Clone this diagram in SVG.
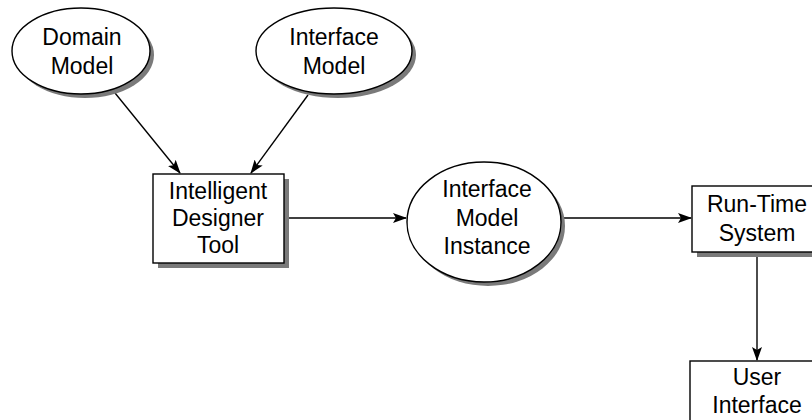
<svg xmlns="http://www.w3.org/2000/svg" width="812" height="420" viewBox="0 0 812 420">
  <style>
    .shadow { fill: #7a7a7a; stroke: none; }
    .shape { fill: #ffffff; stroke: #000000; stroke-width: 1.4; }
    .label { font-family: "Liberation Sans", Arial, sans-serif; font-size: 23px; fill: #000000; text-anchor: middle; }
    .edge { stroke: #000000; stroke-width: 1.4; fill: none; marker-end: url(#arrow); }
  </style>
  <defs>
    <marker id="arrow" viewBox="0 0 14 10" refX="13" refY="5" markerWidth="14" markerHeight="10" markerUnits="userSpaceOnUse" orient="auto">
      <path d="M0,0 L14,5 L0,10 L3,5 Z" fill="#000000"/>
    </marker>
  </defs>
  <rect width="812" height="420" fill="#ffffff"/>

  <g id="connectors">
    <line class="edge" x1="115" y1="93" x2="180" y2="173"/>
    <line class="edge" x1="308" y1="95" x2="251" y2="173"/>
    <line class="edge" x1="285" y1="218" x2="406" y2="218"/>
    <line class="edge" x1="561" y1="218" x2="691" y2="218"/>
    <line class="edge" x1="757" y1="253" x2="757" y2="360"/>
  </g>

  <g id="domain-model">
    <ellipse class="shadow" cx="85" cy="55" rx="69" ry="43"/>
    <ellipse class="shape" cx="81" cy="51" rx="69" ry="43"/>
    <text class="label" x="82" y="45">Domain</text>
    <text class="label" x="82" y="74">Model</text>
  </g>

  <g id="interface-model">
    <ellipse class="shadow" cx="338" cy="55" rx="78" ry="43"/>
    <ellipse class="shape" cx="334" cy="51" rx="78" ry="43"/>
    <text class="label" x="334" y="45">Interface</text>
    <text class="label" x="334" y="74">Model</text>
  </g>

  <g id="intelligent-designer-tool">
    <rect class="shadow" x="158" y="179" width="131" height="89"/>
    <rect class="shape" x="153" y="174" width="131" height="89"/>
    <text class="label" x="218" y="199">Intelligent</text>
    <text class="label" x="218" y="226">Designer</text>
    <text class="label" x="218" y="253">Tool</text>
  </g>

  <g id="interface-model-instance">
    <ellipse class="shadow" cx="488" cy="226" rx="77" ry="60"/>
    <ellipse class="shape" cx="484" cy="222" rx="77" ry="60"/>
    <text class="label" x="487" y="197">Interface</text>
    <text class="label" x="487" y="226">Model</text>
    <text class="label" x="487" y="254">Instance</text>
  </g>

  <g id="run-time-system">
    <rect class="shadow" x="697" y="191" width="130" height="66"/>
    <rect class="shape" x="692" y="186" width="130" height="66"/>
    <text class="label" x="757" y="212">Run-Time</text>
    <text class="label" x="757" y="241">System</text>
  </g>

  <g id="user-interface">
    <rect class="shadow" x="695" y="366" width="134" height="80"/>
    <rect class="shape" x="690" y="361" width="134" height="80"/>
    <text class="label" x="757" y="385">User</text>
    <text class="label" x="757" y="413">Interface</text>
  </g>
</svg>
